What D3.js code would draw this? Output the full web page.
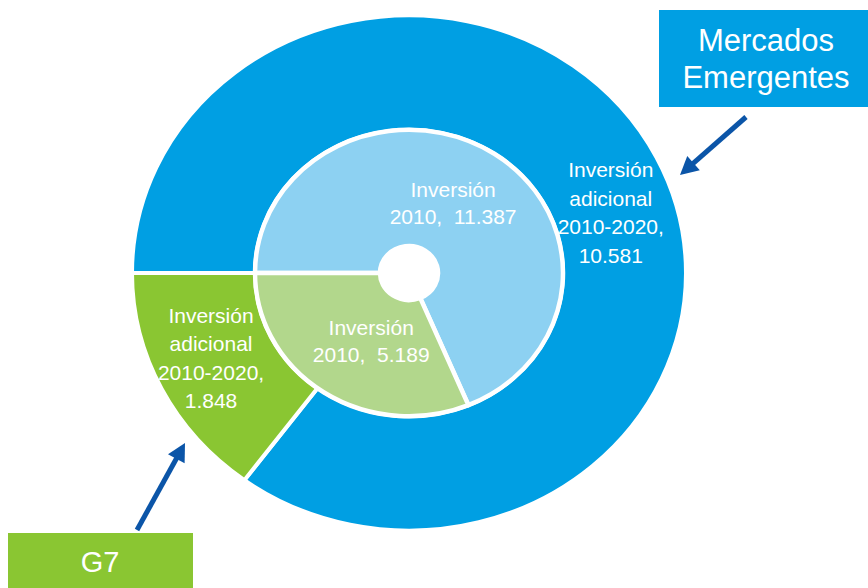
<!DOCTYPE html>
<html><head><meta charset="utf-8">
<script src="https://cdn.jsdelivr.net/npm/d3@7"></script>
<style>
body{margin:0;background:#fff}
svg{display:block}
text{font-family:"Liberation Sans", Arial, sans-serif; fill:#fff; white-space:pre}
</style>
</head><body><svg id="c" width="868" height="588"></svg>
<script>
// ---- data ----
const groups = ["Mercados Emergentes", "G7"];
const inversion2010 = [11.387, 5.189];
const inversionAdicional = [10.581, 1.848];
const innerLabelLines = ["Inversión", "2010,  "];
const outerLabelLines = ["Inversión", "adicional", "2010-2020,"];
const calloutLines = [["Mercados", "Emergentes"], ["G7"]];

// ---- layout ----
const cx = 409, cy = 273, sy = 0.93;
const rHole = 29, rInner = 154, rOuter = 277;
const colInner = ["#8DD1F2", "#B2D78C"];
const colOuter = ["#009FE3", "#8AC632"];
const arrowCol = "#0B55A8";
const fmt = d3.format(".3f");

const svg = d3.select("#c");
const pie = d3.pie().sort(null).startAngle(-Math.PI / 2).endAngle(3 * Math.PI / 2);
const outerArcs = pie(inversionAdicional);
const innerArcs = pie(inversion2010);

const g = svg.append("g").attr("transform", `translate(${cx},${cy}) scale(1,${sy})`);

const arcOuter = d3.arc().innerRadius(rInner).outerRadius(rOuter);
g.selectAll("path.o").data(outerArcs).join("path")
  .attr("class", "o")
  .attr("d", arcOuter)
  .attr("fill", (d, i) => colOuter[i])
  .attr("stroke", "#fff").attr("stroke-width", 4)
  .attr("vector-effect", "non-scaling-stroke");

const arcInner = d3.arc().innerRadius(rHole).outerRadius(rInner);
g.selectAll("path.i").data(innerArcs).join("path")
  .attr("class", "i")
  .attr("d", arcInner)
  .attr("fill", (d, i) => colInner[i])
  .attr("stroke", "#fff").attr("stroke-width", 4.5)
  .attr("stroke-linejoin", "round")
  .attr("vector-effect", "non-scaling-stroke");

// position helper (angle in radians, d3 convention)
const pos = (a, r) => [cx + r * Math.sin(a), cy - r * Math.cos(a) * sy];

function block(x, y, lines, fs, lh) {
  const t = svg.append("text").attr("text-anchor", "middle").attr("font-size", fs);
  const n = lines.length;
  lines.forEach((s, i) => {
    t.append("tspan").attr("x", x)
      .attr("y", y + (i - (n - 1) / 2) * lh + 0.35 * fs)
      .text(s);
  });
}

// inner labels
const innerNudge = [[-3, -4], [5, 0]];
innerArcs.forEach((d, i) => {
  const mid = (d.startAngle + d.endAngle) / 2;
  const [x, y] = pos(mid - (i ? 0.06 : 0), 85);
  block(x + innerNudge[i][0], y + innerNudge[i][1], [innerLabelLines[0], innerLabelLines[1] + fmt(d.data)], 21, 27);
});

// outer labels
const outerShift = [0.155, 0.035];
const outerR = [212, 218];
outerArcs.forEach((d, i) => {
  const mid = (d.startAngle + d.endAngle) / 2;
  const [x, y] = pos(mid + outerShift[i], outerR[i]);
  block(x, y, [...outerLabelLines, fmt(d.data)], 21, 28.5);
});

// callout boxes
const boxes = [
  {x: 659, y: 10, w: 215, h: 97, fill: colOuter[0], fs: 31, lh: 37},
  {x: 8, y: 533, w: 185, h: 60, fill: colOuter[1], fs: 29, lh: 30}
];
boxes.forEach((b, i) => {
  svg.append("rect").attr("x", b.x).attr("y", b.y).attr("width", b.w).attr("height", b.h).attr("fill", b.fill);
  const ty = i === 0 ? b.y + b.h / 2 : 562;
  block(i === 0 ? 766 : 100, ty, calloutLines[i], b.fs, b.lh);
});

// arrows
const arrows = [
  {from: [746, 117], to: [680, 175]},
  {from: [137, 530], to: [185, 443]}
];
arrows.forEach(a => {
  const dx = a.to[0] - a.from[0], dy = a.to[1] - a.from[1];
  const L = Math.hypot(dx, dy), ux = dx / L, uy = dy / L;
  const hl = 18, hw = 9.5;
  const bx = a.to[0] - ux * hl, by = a.to[1] - uy * hl;
  svg.append("line").attr("x1", a.from[0]).attr("y1", a.from[1])
    .attr("x2", bx + ux * 2).attr("y2", by + uy * 2)
    .attr("stroke", arrowCol).attr("stroke-width", 5);
  svg.append("path")
    .attr("d", `M${a.to[0]},${a.to[1]}L${bx - uy * hw},${by + ux * hw}L${bx + uy * hw},${by - ux * hw}Z`)
    .attr("fill", arrowCol);
});
</script>
</body></html>
